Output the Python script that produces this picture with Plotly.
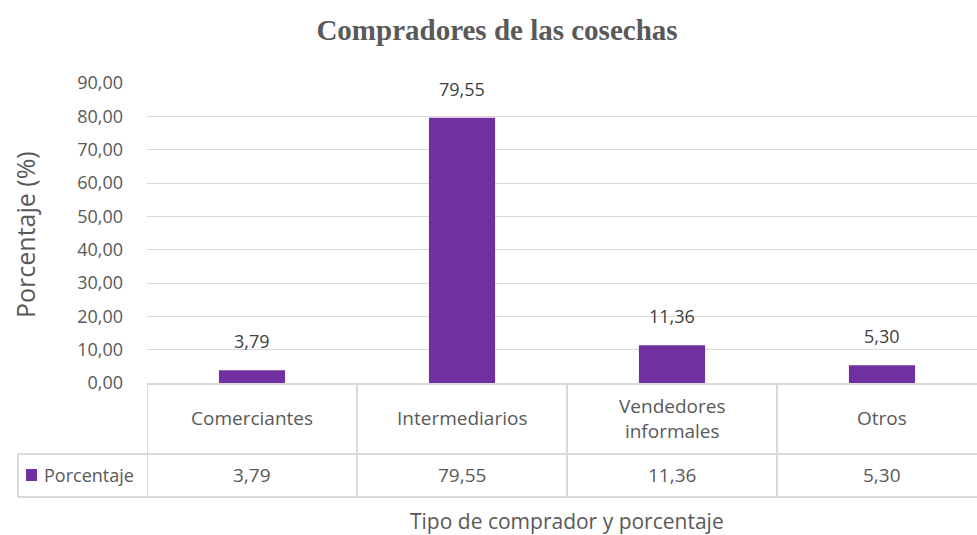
import plotly.graph_objects as go

# Datos
categorias = ["Comerciantes", "Intermediarios", "Vendedores informales", "Otros"]
etiquetas_tabla = ["Comerciantes", "Intermediarios", "Vendedores<br>informales", "Otros"]
porcentaje = [3.79, 79.55, 11.36, 5.30]
ticks_y = [0, 10, 20, 30, 40, 50, 60, 70, 80, 90]

MORADO = "#7030A0"
GRIS_TXT = "#595959"
GRIS_LIN = "#d9d9d9"
FUENTE = "Open Sans"

W, H = 977, 535
ML, MR, MT, MB = 147, 0, 83, 152
PW, PH = W - ML - MR, H - MT - MB
COL = 210  # ancho de cada columna en px (la última queda cortada por el borde)
X_MAX = -0.5 + PW / COL


def px_x(px):
    return (px - ML) / PW


def px_y(py):
    return (H - MB - py) / PH


fig = go.Figure()
fig.add_trace(go.Bar(
    x=list(range(len(categorias))), y=porcentaje,
    marker=dict(color=MORADO, line=dict(width=0)),
    width=0.315, name="Porcentaje", showlegend=False,
    hovertext=categorias
))

anots = []
# etiquetas de datos sobre las barras
for i, v in enumerate(porcentaje):
    anots.append(dict(x=i, y=v, xref="x", yref="y", text=f"{v:.2f}".replace(".", ","),
                      showarrow=False, yanchor="bottom", yshift=15,
                      font=dict(size=18, color="#404040", family=FUENTE)))
# tabla de datos: cabecera y valores
for i, (lab, v) in enumerate(zip(etiquetas_tabla, porcentaje)):
    anots.append(dict(x=i, y=px_y(418), xref="x", yref="paper", text=lab,
                      showarrow=False, yanchor="middle",
                      font=dict(size=19, color=GRIS_TXT, family=FUENTE)))
    anots.append(dict(x=i, y=px_y(475), xref="x", yref="paper", text=f"{v:.2f}".replace(".", ","),
                      showarrow=False, yanchor="middle",
                      font=dict(size=19, color=GRIS_TXT, family=FUENTE)))
# leyenda dentro de la tabla
anots.append(dict(x=px_x(42), y=px_y(475), xref="paper", yref="paper", text="Porcentaje",
                  showarrow=False, xanchor="left", yanchor="middle",
                  font=dict(size=18, color=GRIS_TXT, family=FUENTE)))
# títulos de ejes
anots.append(dict(x=1.5, y=px_y(521), xref="x", yref="paper",
                  text="Tipo de comprador y porcentaje", showarrow=False, yanchor="middle",
                  font=dict(size=21, color=GRIS_TXT, family=FUENTE)))
anots.append(dict(x=px_x(25), y=px_y(234), xref="paper", yref="paper",
                  text="Porcentaje (%)", showarrow=False, textangle=-90,
                  xanchor="center", yanchor="middle",
                  font=dict(size=25, color=GRIS_TXT, family=FUENTE)))

# líneas de la tabla
ln = dict(color=GRIS_LIN, width=2)
shapes = []
y_top, y_mid, y_bot = 0, px_y(454), px_y(497)
for xb in [-0.5, 0.5, 1.5, 2.5]:
    shapes.append(dict(type="line", xref="x", yref="paper", x0=xb, x1=xb,
                       y0=y_top, y1=y_bot, line=ln))
for yy in [y_mid, y_bot]:
    shapes.append(dict(type="line", xref="paper", yref="paper", x0=px_x(18), x1=1,
                       y0=yy, y1=yy, line=ln))
shapes.append(dict(type="line", xref="paper", yref="paper", x0=px_x(18), x1=px_x(18),
                   y0=y_mid, y1=y_bot, line=ln))
# símbolo de leyenda
shapes.append(dict(type="rect", xref="paper", yref="paper", x0=px_x(26), x1=px_x(37),
                   y0=px_y(481), y1=px_y(469), fillcolor=MORADO, line=dict(width=0)))

fig.update_layout(
    width=W, height=H,
    margin=dict(l=ML, r=MR, t=MT, b=MB),
    paper_bgcolor="white", plot_bgcolor="white",
    separators=",.",
    title=dict(text="<b>Compradores de las cosechas</b>", x=497 / W, xref="container",
               y=1 - 30 / H, yanchor="middle", xanchor="center",
               font=dict(family="Liberation Serif", size=29, color=GRIS_TXT)),
    xaxis=dict(range=[-0.5, X_MAX], showticklabels=False, ticks="", showgrid=False,
               zeroline=False, showline=True, linecolor=GRIS_LIN, linewidth=2, fixedrange=True),
    yaxis=dict(range=[0, 90], tickvals=ticks_y, tickformat=".2f", showgrid=True,
               gridcolor=GRIS_LIN, gridwidth=1, zeroline=False, showline=False,
               ticks="", ticklabelstandoff=23,
               tickfont=dict(size=18, color=GRIS_TXT, family=FUENTE)),
    annotations=anots, shapes=shapes,
    showlegend=False
)

fig.write_html("out.html", config={"displayModeBar": False},
               post_script="document.body.style.margin='0';")
